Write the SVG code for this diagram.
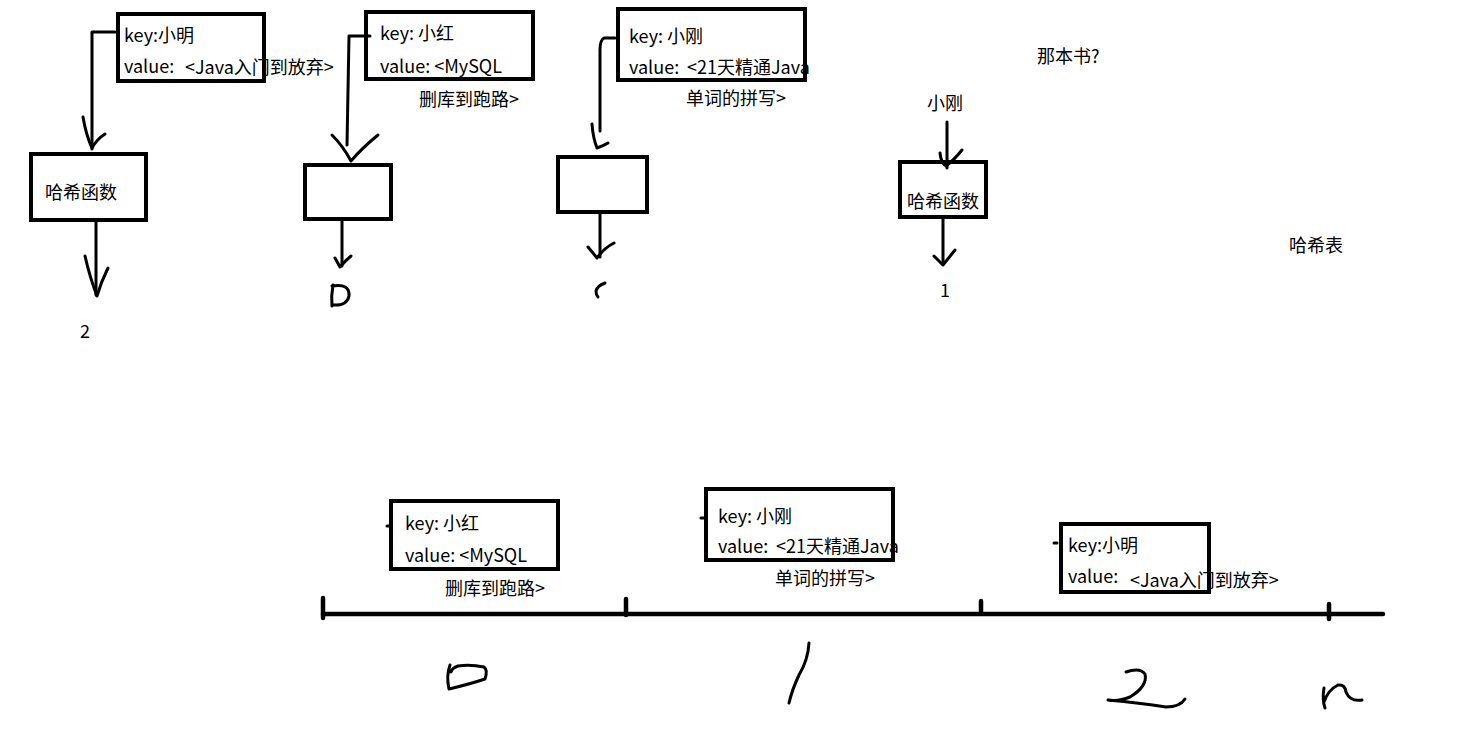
<svg xmlns="http://www.w3.org/2000/svg" width="1474" height="736" viewBox="0 0 1474 736">
<style>
text{font-family:"Microsoft YaHei","Noto Sans CJK SC","Noto Sans",sans-serif;font-size:18px;fill:#000}
.box{fill:none;stroke:#000;stroke-width:4}
.ln{fill:none;stroke:#000;stroke-width:3;stroke-linecap:round;stroke-linejoin:round}
.tk{fill:none;stroke:#000;stroke-width:4.5;stroke-linecap:round}
</style>
<rect width="1474" height="736" fill="#fff"/>

<g id="entry-xiaoming-top">
<text x="124" y="42">key:小明</text>
<text x="124" y="73">value:</text>
<text x="185" y="74">&lt;Java入门到放弃&gt;</text>
<rect class="box" x="118" y="14" width="146" height="67"/>
</g>

<g id="hash-1">
<rect class="box" x="31" y="154" width="115" height="66"/>
<text x="45" y="199">哈希函数</text>
</g>
<g id="label-2"><text x="80" y="338">2</text></g>

<g id="entry-xiaohong-top">
<text x="380" y="40">key: 小红</text>
<text x="380" y="73">value: &lt;MySQL</text>
<rect class="box" x="366" y="12" width="167" height="67"/>
<text x="419" y="106">删库到跑路&gt;</text>
</g>
<g id="hash-2"><rect class="box" x="305" y="165" width="86" height="54"/></g>
<g id="label-0-top"><path class="ln" d="M333,285 Q331,296 332,306 M332,286 Q350,283 349,296 Q347,306 333,305"/></g>

<g id="entry-xiaogang-top">
<text x="629" y="43">key: 小刚</text>
<text x="629" y="74">value:</text>
<text x="687" y="74">&lt;21天精通Java</text>
<rect class="box" x="618" y="9" width="187" height="71"/>
<text x="686" y="105">单词的拼写&gt;</text>
</g>
<g id="hash-3"><rect class="box" x="558" y="157" width="89" height="55"/></g>
<g id="label-1-top"><path class="ln" d="M605,283 Q597,286 596,291 Q596,295 598,297"/></g>

<g id="query-xiaogang">
<text x="1037" y="63">那本书?</text>
<text x="927" y="110">小刚</text>
</g>
<g id="hash-4">
<rect class="box" x="900" y="162" width="86" height="55"/>
<text x="907" y="208">哈希函数</text>
</g>
<g id="label-1-right"><text x="940" y="297">1</text></g>
<g id="title"><text x="1289" y="252">哈希表</text></g>

<g id="table">
<path class="tk" d="M323,614 H1383"/>
<path class="tk" d="M323,598 V618 M626,599 V615 M981,601 V613 M1329,604 V619"/>
</g>

<g id="bucket-0">
<text x="405" y="530">key: 小红</text>
<text x="405" y="562">value: &lt;MySQL</text>
<rect class="box" x="391" y="501" width="167" height="68"/>
<text x="445" y="595">删库到跑路&gt;</text>
<path class="ln" d="M387,526 H391"/>
</g>
<g id="bucket-1">
<text x="718" y="523">key: 小刚</text>
<text x="718" y="553">value:</text>
<text x="776" y="553">&lt;21天精通Java</text>
<rect class="box" x="706" y="489" width="187" height="71"/>
<text x="775" y="585">单词的拼写&gt;</text>
<path class="ln" d="M701,518 H706"/>
</g>
<g id="bucket-2">
<text x="1068" y="552">key:小明</text>
<text x="1068" y="583">value:</text>
<text x="1130" y="587">&lt;Java入门到放弃&gt;</text>
<rect class="box" x="1061" y="524" width="148" height="68"/>
<path class="ln" d="M1054,543 H1057"/>
</g>

<g id="index-labels">
<path class="ln" d="M450,665 Q446,676 449,689 Q470,684 485,679 Q488,670 484,667 Q470,664 458,666 Q452,668 451,672"/>
<path class="ln" d="M809,643 Q808,660 799,675 Q792,690 789,703"/>
<path class="ln" d="M1126,672 Q1140,667 1145,674 Q1148,686 1130,697 Q1118,702 1108,700 Q1140,703 1166,707 Q1180,707 1185,699"/>
<path class="ln" d="M1324,688 Q1322,700 1325,708 M1324,702 Q1328,690 1338,685 Q1345,684 1346,692 Q1350,702 1362,700"/>
</g>

<g id="connectors">
<path class="ln" d="M115,32 H92 V149"/>
<path class="ln" d="M83,117 Q86,135 92,148 Q97,139 105,134"/>
<path class="ln" d="M96,221 V295"/>
<path class="ln" d="M85,256 Q90,278 97,296 Q101,282 108,268"/>

<path class="ln" d="M370,36 H349 Q348,90 347,145"/>
<path class="ln" d="M332,135 Q343,146 351,161 Q362,148 378,135"/>
<path class="ln" d="M342,221 V266"/>
<path class="ln" d="M335,258 L340,267 Q346,260 351,256"/>

<path class="ln" d="M615,38 H604 Q600,40 600,50 V131"/>
<path class="ln" d="M592,124 Q593,138 597,148 Q603,146 608,143"/>
<path class="ln" d="M600,213 V257"/>
<path class="ln" d="M588,247 Q593,253 597,258 Q604,248 614,243"/>

<path class="ln" d="M947,122 V168"/>
<path class="ln" d="M940,153 Q941,163 946,166 Q954,160 962,150"/>
<path class="ln" d="M943,218 V264"/>
<path class="ln" d="M934,256 L943,265 L955,250"/>
</g>
</svg>
